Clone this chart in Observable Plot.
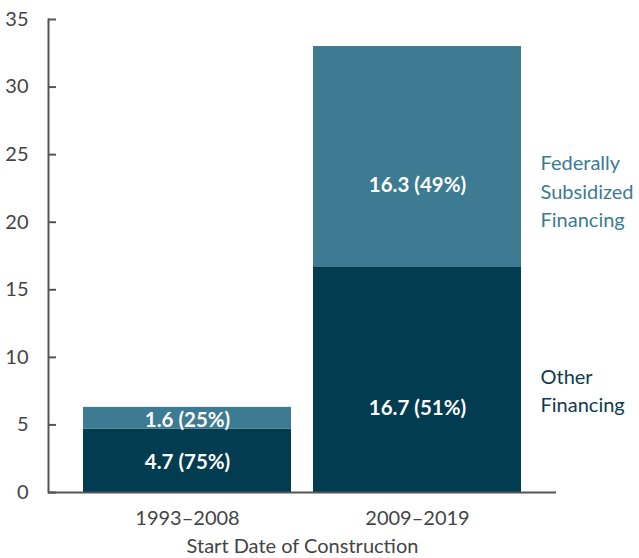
<!DOCTYPE html>
<html><head><meta charset="utf-8">
<script src="https://cdn.jsdelivr.net/npm/d3@7"></script>
<script src="https://cdn.jsdelivr.net/npm/@observablehq/plot@0.6"></script>
<style>body{margin:0;background:#fff} svg{display:block}</style>
</head><body><div id="chart"></div>
<script>
const periods = ["1993–2008", "2009–2019"];
const otherFinancing = [4.7, 16.7];
const federalFinancing = [1.6, 16.3];
const otherShare = [75, 51];
const federalShare = [25, 49];
const seriesNames = ["Other Financing", "Federally Subsidized Financing"];
const legendText = ["Other\nFinancing", "Federally\nSubsidized\nFinancing"];
const yTicks = [0, 5, 10, 15, 20, 25, 30, 35];

const dark = "#023c51", light = "#3c7b92";
const rows = [];
periods.forEach((p, i) => {
  rows.push({period: p, series: seriesNames[0], value: otherFinancing[i], share: otherShare[i], y1: 0, y2: otherFinancing[i]});
  rows.push({period: p, series: seriesNames[1], value: federalFinancing[i], share: federalShare[i], y1: otherFinancing[i], y2: otherFinancing[i] + federalFinancing[i]});
});
const fmt = d => `${d.value.toFixed(1)} (${d.share}%)`;
const mid = d => (d.y1 + d.y2) / 2;
const last = periods[periods.length - 1];
const legendRows = rows.filter(d => d.period === last).map((d, i) => ({...d, label: legendText[i]}));

const W = 639, ML = 48, MR = 83;
const chart = Plot.plot({
  width: W, height: 558,
  marginLeft: ML, marginRight: MR, marginTop: 19, marginBottom: 66,
  style: {fontFamily: "Lato, sans-serif", background: "#fff"},
  x: {domain: periods, paddingInner: 0.096, paddingOuter: 0.152, label: null},
  y: {domain: [0, 35]},
  color: {domain: seriesNames, range: [dark, light]},
  marks: [
    Plot.barY(rows, {x: "period", y1: "y1", y2: "y2", fill: "series"}),
    Plot.ruleY(yTicks, {stroke: "#555", strokeWidth: 2, insetRight: W - ML - MR - 8}),
    Plot.ruleY([0], {stroke: "#555", strokeWidth: 2}),
    Plot.frame({anchor: "left", stroke: "#555", strokeWidth: 2}),
    Plot.axisY({ticks: yTicks, tickSize: 0, tickPadding: 20, fontSize: 20, color: "#444", label: null}),
    Plot.axisX({tickSize: 0, tickPadding: 18, fontSize: 20, color: "#444", label: "Start Date of Construction", labelAnchor: "center", labelOffset: 60}),
    Plot.text(rows.filter(d => d.period !== last), {x: "period", y: mid, text: fmt, fill: "white", fontWeight: "bold", fontSize: 20.5, dy: 2}),
    Plot.text(rows.filter(d => d.period === last), {x: "period", y: mid, text: fmt, fill: "white", fontWeight: "bold", fontSize: 20.5, dy: 29}),
    Plot.text(legendRows.filter(d => d.series === seriesNames[1]), {x: "period", y: mid, text: "label", fill: light, fontSize: 20, lineHeight: 1.43, textAnchor: "start", dx: 123, dy: 33}),
    Plot.text(legendRows.filter(d => d.series === seriesNames[0]), {x: "period", y: mid, text: "label", fill: "#0e3a4c", fontSize: 20, lineHeight: 1.43, textAnchor: "start", dx: 123, dy: 9})
  ]
});
document.getElementById("chart").append(chart);
</script></body></html>
